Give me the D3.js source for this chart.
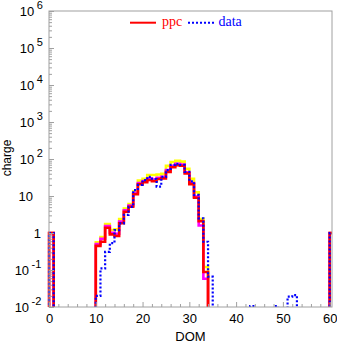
<!DOCTYPE html>
<html>
<head>
<meta charset="utf-8">
<script src="https://cdn.jsdelivr.net/npm/d3@7/dist/d3.min.js"></script>
<style>
  body { margin: 0; background: #fff; }
  svg { display: block; }
  .tick-label { font-family: "Liberation Sans", Arial, sans-serif; font-size: 13px; fill: #000; }
</style>
</head>
<body>
<svg id="chart" width="337" height="344"></svg>
<script>
// DOM number of each histogram bin
const dom = [
   0,  1,  2,  3,  4,  5,  6,  7,  8,  9,
  10, 11, 12, 13, 14, 15, 16, 17, 18, 19,
  20, 21, 22, 23, 24, 25, 26, 27, 28, 29,
  30, 31, 32, 33, 34, 35, 36, 37, 38, 39,
  40, 41, 42, 43, 44, 45, 46, 47, 48, 49,
  50, 51, 52, 53, 54, 55, 56, 57, 58, 59,
  60
];

// posterior predictive charge per DOM (median)
const ppc = [
  1, 0, 0, 0, 0, 0, 0, 0, 0, 0,
  0.45, 0.58, 1.39, 0.92, 0.83, 1.83, 3.76, 5.1, 11.1, 20.7,
  23.5, 27, 25, 28.8, 30, 45, 60, 68, 66, 41,
  21, 9, 2.1, 0.088, 0, 0, 0, 0, 0, 0,
  0, 0, 0, 0, 0, 0, 0, 0, 0, 0,
  0, 0, 0, 0, 0, 0, 0, 0, 0, 0,
  1
];

// outer band of the prediction
const ppcOuter = [
  1, 0, 0, 0, 0, 0, 0, 0, 0, 0,
  0.56, 0.78, 1.75, 1.2, 1.25, 2.4, 4.6, 6.1, 13.5, 26,
  29, 37, 37, 38, 40, 65, 83, 90, 85, 54,
  29, 12.6, 2.4, 0.12, 0, 0, 0, 0, 0, 0,
  0, 0, 0, 0, 0, 0, 0, 0, 0, 0,
  0, 0, 0, 0, 0, 0, 0, 0, 0, 0,
  1
];

// inner band of the prediction
const ppcInner = [
  1, 0, 0, 0, 0, 0, 0, 0, 0, 0,
  0.5, 0.7, 1.55, 1.02, 0.95, 2.05, 4.1, 5.5, 12, 22.5,
  25.5, 30, 28, 31, 33, 50, 66, 74, 71, 44,
  22.5, 9.6, 1.6, 0.058, 0, 0, 0, 0, 0, 0,
  0, 0, 0, 0, 0, 0, 0, 0, 0, 0,
  0, 0, 0, 0, 0, 0, 0, 0, 0, 0,
  1
];

// measured charge per DOM
const data = [
  1, 0, 0, 0, 0, 0, 0, 0, 0, 0,
  0.02, 0.11, 0.31, 0.53, 1.2, 1.83, 3.1, 5.1, 14.5, 20,
  27, 33, 28.8, 18, 33, 50, 69, 74, 69, 45,
  25, 10.7, 2.5, 0.58, 0.066, 0, 0, 0, 0, 0,
  0, 0, 0, 0.0105, 0, 0, 0, 0, 0.0105, 0,
  0, 0.019, 0.021, 0, 0, 0, 0, 0, 0, 0,
  1
];

const xTicks = [0, 10, 20, 30, 40, 50, 60];
const xMinorTicks = [2, 4, 6, 8, 12, 14, 16, 18, 22, 24, 26, 28, 32, 34, 36, 38, 42, 44, 46, 48, 52, 54, 56, 58];
const yExponents = [-2, -1, 0, 1, 2, 3, 4, 5, 6];

const legendNames = ["ppc", "data"];
const legendColors = ["#ff0000", "#0000ff"];

const svg = d3.select("#chart");
const plotLeft = 49, plotRight = 332, plotTop = 11, plotBottom = 307;

const x = d3.scaleLinear().domain([0, 60.5]).range([plotLeft, plotRight]);
const y = d3.scaleLog().domain([1e-2, 1e6]).range([plotBottom, plotTop]);

svg.append("defs").append("clipPath").attr("id", "plot-clip")
  .append("rect").attr("x", plotLeft - 1.5).attr("y", plotTop)
  .attr("width", plotRight - plotLeft + 1.5).attr("height", plotBottom - plotTop);

// step outline of a histogram; empty bins drop below the frame
function stepPath(values) {
  const pts = [];
  const below = plotBottom + 10;
  const yv = v => (v > 0 ? y(v) : below);
  pts.push([x(dom[0]), below]);
  dom.forEach((d, i) => {
    const yy = yv(values[i]);
    pts.push([x(d), yy]);
    pts.push([x(d + 1), yy]);
  });
  pts.push([x(dom[dom.length - 1] + 1), below]);
  return d3.line()(pts);
}

const plot = svg.append("g").attr("clip-path", "url(#plot-clip)");

plot.append("path").attr("d", stepPath(ppcOuter))
  .attr("fill", "none").attr("stroke", "#ffff00").attr("stroke-width", 2.6);
plot.append("path").attr("d", stepPath(ppcInner))
  .attr("fill", "none").attr("stroke", "#ff00ff").attr("stroke-width", 2.6);
plot.append("path").attr("d", stepPath(ppc))
  .attr("fill", "none").attr("stroke", "#ff0000").attr("stroke-width", 2.6);
plot.append("path").attr("d", stepPath(data))
  .attr("fill", "none").attr("stroke", "#0000ff").attr("stroke-width", 2.2)
  .attr("stroke-dasharray", "2,2");

// frame
svg.append("rect").attr("x", plotLeft).attr("y", plotTop)
  .attr("width", plotRight - plotLeft).attr("height", plotBottom - plotTop)
  .attr("fill", "none").attr("stroke", "#a0a0a0").attr("stroke-width", 1);

// y ticks (inward), major at decades and minor at 2..9
const yMinor = [];
yExponents.slice(0, -1).forEach(e => {
  for (let k = 2; k <= 9; k++) yMinor.push(k * Math.pow(10, e));
});
const yMajorVals = yExponents.map(e => Math.pow(10, e));

function styleAxis(g) {
  g.select(".domain").remove();
  g.selectAll(".tick line").attr("stroke", "#a0a0a0");
}

svg.append("g").attr("transform", `translate(${plotLeft},0)`)
  .call(d3.axisLeft(y).tickValues(yMinor).tickSize(-3).tickFormat(""))
  .call(styleAxis);
svg.append("g").attr("transform", `translate(${plotLeft},0)`)
  .call(d3.axisLeft(y).tickValues(yMajorVals).tickSize(-5).tickFormat(""))
  .call(styleAxis);

// y labels written as powers of ten
yExponents.forEach(e => {
  const yy = y(Math.pow(10, e)) + 5;
  if (e === 0) {
    svg.append("text").attr("class", "tick-label").attr("x", 41).attr("y", yy)
      .attr("text-anchor", "end").text("1");
  } else if (e === 1) {
    svg.append("text").attr("class", "tick-label").attr("x", 33).attr("y", yy)
      .attr("text-anchor", "end").text("10");
  } else {
    const expStr = String(e);
    const expWidth = expStr.length * 5.2;
    svg.append("text").attr("class", "tick-label")
      .attr("x", 42 - expWidth - 2.5).attr("y", yy)
      .attr("text-anchor", "end").text("10");
    svg.append("text").attr("class", "tick-label")
      .attr("x", 42 - expWidth).attr("y", yy - 7)
      .style("font-size", "11px").text(expStr);
  }
});

// x axis ticks and labels
svg.append("g").attr("transform", `translate(0,${plotBottom})`)
  .call(d3.axisBottom(x).tickValues(xMinorTicks).tickSize(-3).tickFormat(""))
  .call(styleAxis);
const xAx = svg.append("g").attr("transform", `translate(0,${plotBottom})`)
  .call(d3.axisBottom(x).tickValues(xTicks).tickSize(-5).tickPadding(7).tickFormat(d3.format("d")))
  .call(styleAxis);
xAx.selectAll(".tick text").attr("class", "tick-label").attr("fill", "#000");

// axis titles
svg.append("text").attr("class", "tick-label")
  .attr("x", (plotLeft + plotRight) / 2).attr("y", 341).attr("text-anchor", "middle").text("DOM");
svg.append("text").attr("class", "tick-label")
  .style("font-size", "12px")
  .attr("transform", `translate(11,158) rotate(-90)`).attr("text-anchor", "middle").text("charge");

// legend
const legend = svg.append("g");
legend.append("line").attr("x1", 130).attr("x2", 156).attr("y1", 22.7).attr("y2", 22.7)
  .attr("stroke", legendColors[0]).attr("stroke-width", 2);
legend.append("text").attr("x", 162).attr("y", 26)
  .style("font-family", "'Liberation Serif', 'Times New Roman', serif").style("font-size", "14px")
  .attr("fill", legendColors[0]).text(legendNames[0]);
legend.append("line").attr("x1", 188).attr("x2", 214).attr("y1", 22.7).attr("y2", 22.7)
  .attr("stroke", legendColors[1]).attr("stroke-width", 2).attr("stroke-dasharray", "2,2");
legend.append("text").attr("x", 218.5).attr("y", 26)
  .style("font-family", "'Liberation Serif', 'Times New Roman', serif").style("font-size", "14px")
  .attr("fill", legendColors[1]).text(legendNames[1]);
</script>
</body>
</html>
